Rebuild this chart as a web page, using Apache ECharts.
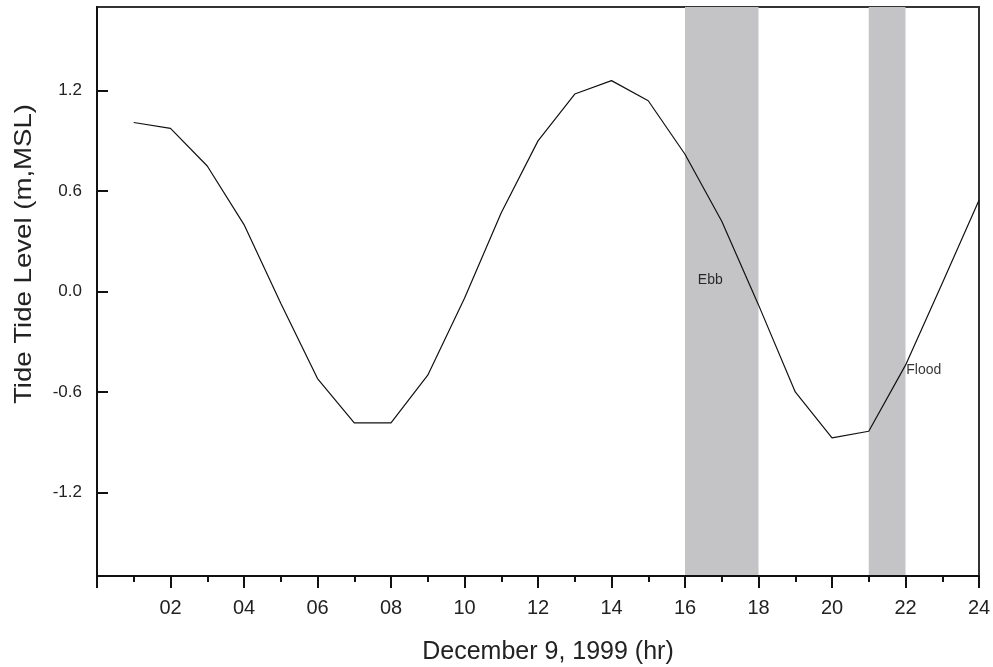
<!DOCTYPE html>
<html>
<head>
<meta charset="utf-8">
<script src="https://cdn.jsdelivr.net/npm/echarts@6/dist/echarts.min.js"></script>
<style>
html,body{margin:0;padding:0;background:#fff;}
#c{width:993px;height:667px;}
</style>
</head>
<body>
<div id="c"></div>
<script>
// Data
var hours = [1,2,3,4,5,6,7,8,9,10,11,12,13,14,15,16,17,18,19,20,21,22,23,24];
var tideLevel = [1.01,0.975,0.75,0.40,-0.07,-0.52,-0.785,-0.785,-0.50,-0.04,0.47,0.90,1.18,1.26,1.14,0.82,0.42,-0.08,-0.60,-0.875,-0.835,-0.44,0.05,0.545];
var yTicks = [-1.2,-0.6,0.0,0.6,1.2];
var bands = [{name:'Ebb', from:16, to:18}, {name:'Flood', from:21, to:22}];
var bandLabels = [{text:'Ebb', x:16.35, y:0.07}, {text:'Flood', x:22.02, y:-0.47}];

var font = '"Liberation Sans", Arial, sans-serif';
var chart = echarts.init(document.getElementById('c'));

var seriesData = hours.map(function(h,i){return [h, tideLevel[i]];});

chart.setOption({
  animation:false,
  backgroundColor:'#fff',
  grid:{left:97, right:14, top:7, bottom:91, show:true, borderColor:'#333', borderWidth:2, backgroundColor:'transparent', outerBoundsMode:'none', containLabel:false},
  xAxis:{
    type:'value', min:0, max:24, interval:2, z:5,
    name:'December 9, 1999 (hr)', nameLocation:'middle', nameGap:64,
    nameTextStyle:{fontFamily:font, fontSize:25, color:'#222', padding:[0,0,0,20]},
    axisLine:{show:true, onZero:false, lineStyle:{color:'#111', width:2}},
    axisTick:{show:true, inside:false, length:12, lineStyle:{color:'#111', width:2}},
    minorTick:{show:true, splitNumber:2, length:6, lineStyle:{color:'#111', width:2}},
    splitLine:{show:false},
    axisLabel:{margin:22, fontFamily:font, fontSize:20, color:'#222',
      formatter:function(v){ if(v===0) return ''; return (v<10?'0':'')+v; }}
  },
  yAxis:{
    type:'value', min:-1.7, max:1.7, z:5,
    axisLine:{show:true, onZero:false, lineStyle:{color:'#111', width:2}},
    axisTick:{show:true, inside:true, length:11, customValues:yTicks, lineStyle:{color:'#111', width:2}},
    splitLine:{show:false},
    axisLabel:{margin:15, fontFamily:font, fontSize:17, color:'#222', customValues:yTicks,
      formatter:function(v){ return v.toFixed(1); }}
  },
  graphic:[{
    type:'text', x:24, y:254, rotation:Math.PI/2, scaleX:1.15, scaleY:1,
    style:{text:'Tide Tide Level (m,MSL)', fontFamily:font, fontSize:24, fill:'#222', align:'center', verticalAlign:'middle'}
  }],
  series:[{
    type:'line', data:seriesData, symbol:'none', z:3,
    lineStyle:{color:'#111', width:1.2},
    markArea:{
      silent:true,
      itemStyle:{color:'#c4c3c6'},
      data: bands.map(function(b){ return [{xAxis:b.from}, {xAxis:b.to}]; })
    }
  },{
    type:'scatter', symbolSize:0, z:4,
    data: bandLabels.map(function(l){ return {value:[l.x, l.y], name:l.text}; }),
    label:{show:true, position:'right', distance:0, formatter:function(p){return p.name;}, fontFamily:font, fontSize:14, color:'#000'}
  }]
});
</script>
</body>
</html>
